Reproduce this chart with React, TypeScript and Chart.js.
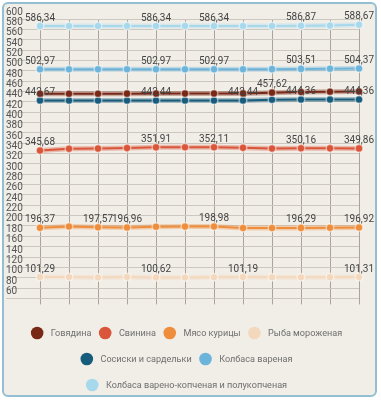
import React, { useEffect, useRef } from "react";
import { Chart, registerables } from "chart.js";

Chart.register(...registerables);

const categories = ["1", "2", "3", "4", "5", "6", "7", "8", "9", "10", "11", "12"];

const seriesNames = [
  "Говядина",
  "Свинина",
  "Мясо курицы",
  "Рыба мороженая",
  "Сосиски и сардельки",
  "Колбаса вареная",
  "Колбаса варено-копченая и полукопченая",
];

const colors = ["#7a2816", "#d9563a", "#ee8d3c", "#f3d8bd", "#175c7c", "#6db4da", "#a7d8eb"];

const beef = [455.5, 455.6, 455.6, 455.7, 455.8, 455.8, 456.0, 456.2, 457.62, 459.0, 459.5, 460.0];
const pork = [345.68, 349.0, 349.5, 350.5, 351.91, 352.0, 352.11, 351.0, 349.5, 350.16, 350.0, 349.86];
const chicken = [196.37, 199.0, 197.57, 196.96, 198.5, 198.8, 198.98, 196.0, 196.0, 196.29, 196.5, 196.92];
const fish = [101.29, 101.5, 100.5, 101.5, 100.62, 100.5, 101.0, 101.19, 101.0, 101.0, 101.1, 101.31];
const sausages = [442.67, 442.6, 442.5, 442.5, 442.44, 442.44, 442.44, 442.44, 444.0, 444.36, 444.36, 444.36];
const boiled = [502.97, 502.97, 502.97, 502.97, 502.97, 502.97, 502.97, 502.97, 503.1, 503.51, 503.8, 504.37];
const smoked = [586.34, 586.34, 586.34, 586.34, 586.34, 586.34, 586.34, 586.34, 586.5, 586.87, 587.2, 588.67];

const seriesValues = [beef, pork, chicken, fish, sausages, boiled, smoked];

// indices of points that carry a value label
const labelIndices = [
  [8],
  [0, 4, 6, 9, 11],
  [0, 2, 3, 6, 9, 11],
  [0, 4, 7, 11],
  [0, 4, 7, 9, 11],
  [0, 4, 6, 9, 11],
  [0, 4, 6, 9, 11],
];

const yMin = 60;
const yMax = 600;
const yStep = 20;

const FONT = "Roboto, 'Noto Sans', sans-serif";

function hexToRgba(hex: string, a: number) {
  const n = parseInt(hex.slice(1), 16);
  return `rgba(${(n >> 16) & 255},${(n >> 8) & 255},${n & 255},${a})`;
}

const lineHalo = {
  id: "lineHalo",
  beforeDatasetDraw(chart: any, args: any) {
    const meta = args.meta;
    const di = args.index;
    const pts = meta.data;
    if (!pts.length) return;
    const ctx = chart.ctx;
    ctx.save();
    ctx.strokeStyle = hexToRgba(colors[di], 0.35);
    ctx.lineWidth = 5;
    ctx.lineJoin = "round";
    ctx.lineCap = "round";
    ctx.beginPath();
    pts.forEach((p: any, i: number) => {
      if (i === 0) ctx.moveTo(p.x, p.y);
      else ctx.lineTo(p.x, p.y);
    });
    ctx.stroke();
    ctx.restore();
  },
};

const valueLabels = {
  id: "valueLabels",
  afterDatasetsDraw(chart: any) {
    const ctx = chart.ctx;
    ctx.save();
    ctx.font = `10px ${FONT}`;
    ctx.fillStyle = "#444444";
    ctx.textAlign = "center";
    ctx.textBaseline = "middle";
    chart.data.datasets.forEach((ds: any, di: number) => {
      const meta = chart.getDatasetMeta(di);
      labelIndices[di].forEach((i) => {
        const el = meta.data[i];
        if (!el) return;
        const txt = ds.data[i].toFixed(2).replace(".", ",");
        ctx.fillText(txt, el.x, el.y - 8);
      });
    });
    ctx.restore();
  },
};

const customLegend = {
  id: "customLegend",
  afterDraw(chart: any) {
    const ctx = chart.ctx;
    ctx.save();
    ctx.font = `9.1px ${FONT}`;
    ctx.textBaseline = "middle";
    ctx.textAlign = "left";
    const r = 6.3;
    const gapIn = 7.4;
    const gapOut = 7.5;
    const maxW = 330;
    const items = seriesNames.map((n, i) => ({
      name: n,
      color: colors[i],
      w: 2 * r + gapIn + ctx.measureText(n).width,
    }));
    const rows: any[][] = [[]];
    let cur = 0;
    items.forEach((it) => {
      const add = (rows[rows.length - 1].length ? gapOut : 0) + it.w;
      if (rows[rows.length - 1].length && cur + add > maxW) {
        rows.push([it]);
        cur = it.w;
      } else {
        rows[rows.length - 1].push(it);
        cur += add;
      }
    });
    const centerX = 186.5;
    const rowY = [333, 359, 385];
    rows.forEach((row, ri) => {
      const total = row.reduce((s, it, k) => s + it.w + (k ? gapOut : 0), 0);
      let x = centerX - total / 2;
      const y = rowY[ri] ?? 385 + (ri - 2) * 26;
      row.forEach((it) => {
        ctx.beginPath();
        ctx.fillStyle = it.color;
        ctx.arc(x + r, y, r, 0, Math.PI * 2);
        ctx.fill();
        ctx.fillStyle = "#6f6f6f";
        ctx.fillText(it.name, x + 2 * r + gapIn, y + 0.5);
        x += it.w + gapOut;
      });
    });
    ctx.restore();
  },
};

export default function App() {
  const ref = useRef<HTMLCanvasElement | null>(null);

  useEffect(() => {
    document.body.style.margin = "0";
    const canvas = ref.current;
    if (!canvas) return;
    const chart = new Chart(canvas, {
      type: "line",
      data: {
        labels: categories,
        datasets: seriesValues.map((vals, i) => ({
          label: seriesNames[i],
          data: vals,
          borderColor: colors[i],
          backgroundColor: colors[i],
          borderWidth: 2,
          pointRadius: 3.8,
          pointBorderWidth: 1.5,
          pointBorderColor: "rgba(255,255,255,0.5)",
          pointBackgroundColor: colors[i],
          tension: 0,
          fill: false,
        })),
      },
      options: {
        animation: false,
        responsive: false,
        maintainAspectRatio: false,
        layout: { padding: { left: 6, right: 22, top: 19, bottom: 95.6 } },
        plugins: {
          legend: { display: false },
          tooltip: { enabled: false },
        },
        scales: {
          x: {
            type: "category",
            offset: false,
            ticks: { display: false },
            border: { display: false },
            grid: {
              color: "#aaa49b",
              lineWidth: 1,
              drawTicks: true,
              tickLength: 6,
              tickColor: "#aaa49b",
            },
          },
          y: {
            min: yMin,
            max: yMax,
            border: { display: false },
            ticks: {
              stepSize: yStep,
              autoSkip: false,
              crossAlign: "far",
              labelOffset: -7,
              color: "#555555",
              font: { family: FONT, size: 10 },
            },
            grid: {
              color: "#cdc8bf",
              lineWidth: 1,
              drawTicks: true,
              tickLength: 34,
              tickColor: "#cdc8bf",
            },
            afterFit(scale: any) {
              scale.width = 34;
            },
          },
        },
      },
      plugins: [lineHalo, valueLabels, customLegend],
    });
    return () => chart.destroy();
  }, []);

  return (
    <div style={{ position: "relative", width: 381, height: 400, background: "#ffffff" }}>
      <div
        style={{
          position: "absolute",
          left: 2,
          top: 2,
          width: 375,
          height: 395,
          boxSizing: "border-box",
          border: "2px solid #94bfd3",
          borderRadius: 6,
          background: "#f1eee8",
        }}
      />
      <canvas
        ref={ref}
        width={381}
        height={400}
        style={{ position: "absolute", left: 0, top: 0, width: 381, height: 400 }}
      />
    </div>
  );
}
